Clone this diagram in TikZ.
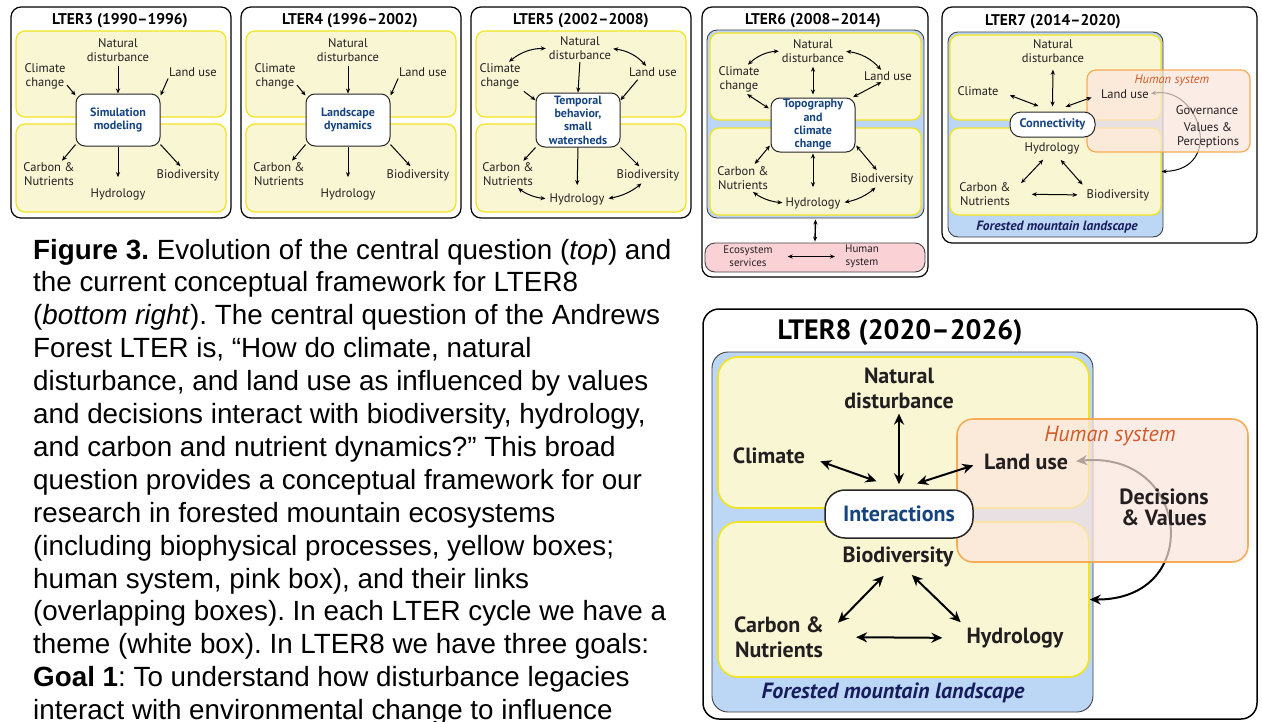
\documentclass[tikz,border=0pt]{standalone}
\usepackage{fontspec}
\setmainfont{Liberation Sans}
\newfontfamily\labelfont{PT Sans}
\usetikzlibrary{arrows.meta}
\frenchspacing

\definecolor{procfill}{RGB}{249,246,212}
\definecolor{procline}{RGB}{244,228,30}
\definecolor{landfill}{RGB}{188,214,246}
\definecolor{themeblue}{RGB}{22,68,128}
\definecolor{humanfill}{RGB}{252,229,220}
\definecolor{humanline}{RGB}{247,165,70}
\definecolor{humantext}{RGB}{210,90,40}
\definecolor{navytext}{RGB}{22,28,92}
\definecolor{servicefill}{RGB}{250,210,214}
\definecolor{labelgray}{RGB}{35,31,32}

\pgfdeclarelayer{backdrop}
\pgfdeclarelayer{linkcurve}
\pgfdeclarelayer{humanlayer}
\pgfsetlayers{backdrop,linkcurve,humanlayer,main}

\tikzset{
  panel/.style      = {draw, line width=1.2pt, rounded corners=10pt, fill=white, inner sep=0pt},
  procbox/.style    = {draw=procline, line width=1.2pt, fill=procfill, rounded corners=9pt, inner sep=0pt},
  landbox/.style    = {draw=black!75, line width=0.9pt, fill=landfill, rounded corners=10pt, inner sep=0pt},
  humanbox/.style   = {draw=humanline, line width=1.2pt, fill=humanfill, fill opacity=0.7,
                       draw opacity=0.9, rounded corners=9pt, inner sep=0pt},
  servicebox/.style = {draw=black!75, line width=0.9pt, fill=servicefill, rounded corners=10pt, inner sep=0pt},
  themebox/.style   = {draw=black!85, line width=1pt, fill=white, rounded corners=9pt, align=center,
                       text=themeblue, inner sep=0pt, font=\labelfont\bfseries\fontsize{12}{13.3}\selectfont},
  bigtheme/.style   = {themebox, line width=1.5pt, rounded corners=20pt,
                       font=\labelfont\bfseries\fontsize{22}{24}\selectfont},
  lab/.style        = {align=center, inner sep=0pt, text=labelgray, font=\labelfont\fontsize{12.5}{14}\selectfont},
  smalllab/.style   = {lab, font=\labelfont\fontsize{11}{13}\selectfont},
  biglab/.style     = {lab, font=\labelfont\bfseries\fontsize{22}{25}\selectfont},
  paneltitle/.style = {inner sep=0pt, font=\labelfont\bfseries\fontsize{15.5}{17}\selectfont},
  bigtitle/.style   = {inner sep=0pt, font=\labelfont\bfseries\fontsize{28}{30}\selectfont},
  humantitle/.style = {inner sep=0pt, text=humantext, font=\labelfont\itshape\fontsize{12.5}{14}\selectfont},
  forest/.style     = {inner sep=0pt, text=navytext, font=\labelfont\bfseries\itshape\fontsize{13.5}{15}\selectfont},
  caption/.style    = {anchor=north west, inner sep=0pt, align=left, font=\fontsize{27.8}{32.9}\selectfont},
  arr/.style        = {-{Stealth[length=5pt,width=4.2pt]}, line width=1pt},
  darr/.style       = {{Stealth[length=5pt,width=4.2pt]}-{Stealth[length=5pt,width=4.2pt]}, line width=1pt},
  bigarr/.style     = {{Stealth[length=11pt,width=10pt]}-{Stealth[length=11pt,width=10pt]}, line width=2pt}
}

\begin{document}
\begin{tikzpicture}[x=1pt, y=-1pt]
  \useasboundingbox (0,0) rectangle (1262,721);

  % LTER3
  \begin{pgfonlayer}{backdrop}
    \node[panel, minimum width=220pt, minimum height=211pt] (a-panel) at (121,112.5) {};
    \node[procbox, minimum width=210pt, minimum height=86pt] (a-up) at (121,74) {};
    \node[procbox, minimum width=210pt, minimum height=88pt] (a-low) at (121,168) {};
  \end{pgfonlayer}
  \node[paneltitle] (a-title) at (120,21) {LTER3 (1990–1996)};
  \node[themebox, minimum width=84pt, minimum height=52pt] (a-theme) at (118,120) {Simulation\\modeling};
  \node[lab] (a-nat) at (118,50) {Natural\\disturbance};
  \node[lab] (a-clim) at (45,76) {Climate\\change};
  \node[lab] (a-land) at (193,72) {Land use};
  \node[lab] (a-carb) at (49,174) {Carbon \&\\Nutrients};
  \node[lab] (a-hyd) at (118,194) {Hydrology};
  \node[lab] (a-bio) at (188,175) {Biodiversity};
  \draw[arr, shorten <=4pt] (a-nat.south) -- (a-theme.north);
  \draw[arr, shorten <=2pt] (a-clim.-20) -- (a-theme.150);
  \draw[arr, shorten <=2pt] (a-land.south west) -- (a-theme.30);
  \draw[arr, shorten >=2pt] (a-theme.210) -- (a-carb.45);
  \draw[arr, shorten >=11pt] (a-theme.south) -- (a-hyd.north);
  \draw[arr, shorten >=4pt] (a-theme.330) -- (a-bio.130);

  % LTER4
  \begin{scope}[xshift=230pt]
    \begin{pgfonlayer}{backdrop}
      \node[panel, minimum width=220pt, minimum height=211pt] (b-panel) at (121,112.5) {};
      \node[procbox, minimum width=210pt, minimum height=86pt] (b-up) at (121,74) {};
      \node[procbox, minimum width=210pt, minimum height=88pt] (b-low) at (121,168) {};
    \end{pgfonlayer}
    \node[paneltitle] (b-title) at (120,21) {LTER4 (1996–2002)};
    \node[themebox, minimum width=84pt, minimum height=52pt] (b-theme) at (118,120) {Landscape\\dynamics};
    \node[lab] (b-nat) at (118,50) {Natural\\disturbance};
    \node[lab] (b-clim) at (45,76) {Climate\\change};
    \node[lab] (b-land) at (193,72) {Land use};
    \node[lab] (b-carb) at (49,174) {Carbon \&\\Nutrients};
    \node[lab] (b-hyd) at (118,194) {Hydrology};
    \node[lab] (b-bio) at (188,175) {Biodiversity};
    \draw[arr, shorten <=4pt] (b-nat.south) -- (b-theme.north);
    \draw[arr, shorten <=2pt] (b-clim.-20) -- (b-theme.150);
    \draw[arr, shorten <=2pt] (b-land.south west) -- (b-theme.30);
    \draw[arr, shorten >=2pt] (b-theme.210) -- (b-carb.45);
    \draw[arr, shorten >=11pt] (b-theme.south) -- (b-hyd.north);
    \draw[arr, shorten >=4pt] (b-theme.330) -- (b-bio.130);
  \end{scope}

  % LTER5
  \begin{pgfonlayer}{backdrop}
    \node[panel, minimum width=220pt, minimum height=211pt] (c-panel) at (581,112.5) {};
    \node[procbox, minimum width=210pt, minimum height=86pt] (c-up) at (581,74) {};
    \node[procbox, minimum width=210pt, minimum height=88pt] (c-low) at (581,168) {};
  \end{pgfonlayer}
  \node[paneltitle] (c-title) at (581,21) {LTER5 (2002–2008)};
  \node[themebox, minimum width=84pt, minimum height=54pt] (c-theme) at (578,120) {Temporal\\behavior,\\small\\watersheds};
  \node[lab] (c-nat) at (580,48.5) {Natural\\disturbance};
  \node[lab] (c-clim) at (500,76) {Climate\\change};
  \node[lab] (c-land) at (653,72) {Land use};
  \node[lab] (c-carb) at (508,174) {Carbon \&\\Nutrients};
  \node[lab] (c-hyd) at (577,199) {Hydrology};
  \node[lab] (c-bio) at (648,175) {Biodiversity};
  \draw[darr, shorten <=2pt, shorten >=3pt] (c-clim.60) to[bend left=20] (c-nat.west);
  \draw[darr, shorten <=2pt, shorten >=2pt] (c-nat.east) to[bend left=20] (c-land.140);
  \draw[arr, shorten <=2pt] (c-nat.south) -- (c-theme.north);
  \draw[arr, shorten <=4pt] (c-clim.south east) -- (c-theme.155);
  \draw[arr, shorten <=4pt] (c-land.200) -- (c-theme.25);
  \draw[arr, shorten >=2pt] (c-theme.south west) -- (c-carb.40);
  \draw[arr, shorten >=8pt] (c-theme.south) -- (c-hyd.north);
  \draw[arr, shorten >=4pt] (c-theme.south east) -- (c-bio.135);
  \draw[darr, shorten <=4pt, shorten >=4pt] (c-carb.-60) to[bend right=15] (c-hyd.west);
  \draw[darr, shorten <=4pt, shorten >=4pt] (c-hyd.east) to[bend right=15] (c-bio.-120);

  % LTER6
  \begin{pgfonlayer}{backdrop}
    \node[panel, minimum width=226pt, minimum height=270pt] (d-panel) at (815,142) {};
    \node[landbox, minimum width=217pt, minimum height=188pt] (d-blue) at (815.5,124) {};
    \node[procbox, minimum width=211pt, minimum height=87pt] (d-up) at (815.5,76.5) {};
    \node[procbox, minimum width=211pt, minimum height=87pt] (d-low) at (815.5,171.5) {};
    \node[servicebox, minimum width=220pt, minimum height=29pt] (d-pink) at (815,257.5) {};
  \end{pgfonlayer}
  \node[paneltitle] (d-title) at (813,21) {LTER6 (2008–2014)};
  \node[themebox, minimum width=84pt, minimum height=54pt] (d-theme) at (813,125) {Topography\\and\\climate\\change};
  \node[lab] (d-nat) at (813,51) {Natural\\disturbance};
  \node[lab] (d-clim) at (739,79) {Climate\\change};
  \node[lab] (d-land) at (888,76) {Land use};
  \node[lab] (d-carb) at (743,178) {Carbon \&\\Nutrients};
  \node[lab] (d-hyd) at (813,203) {Hydrology};
  \node[lab] (d-bio) at (882,179) {Biodiversity};
  \node[smalllab] (d-eco) at (748,256.5) {Ecosystem\\services};
  \node[smalllab] (d-hum) at (862,256.5) {Human\\system};
  \draw[darr, shorten <=2pt, shorten >=3pt] (d-clim.60) to[bend left=20] (d-nat.west);
  \draw[darr, shorten <=2pt, shorten >=2pt] (d-nat.east) to[bend left=20] (d-land.140);
  \draw[darr, shorten <=4pt, shorten >=3pt] (d-nat.south) -- (d-theme.north);
  \draw[darr, shorten <=4pt, shorten >=2pt] (d-clim.-70) -- (d-theme.160);
  \draw[darr, shorten <=3pt, shorten >=1pt] (d-land.-130) -- (d-theme.35);
  \draw[darr, shorten <=1pt, shorten >=3pt] (d-theme.205) -- (d-carb.50);
  \draw[darr, shorten <=1pt, shorten >=10pt] (d-theme.south) -- (d-hyd.north);
  \draw[darr, shorten <=1pt, shorten >=4pt] (d-theme.-25) -- (d-bio.115);
  \draw[darr, shorten <=4pt, shorten >=3pt] (d-carb.-60) to[bend right=15] (d-hyd.west);
  \draw[darr, shorten <=4pt, shorten >=4pt] (d-hyd.east) to[bend right=15] (d-bio.-120);
  \draw[darr, line width=1.4pt, shorten <=1pt, shorten >=1pt] (d-blue.south) -- (d-pink.north);
  \draw[darr, shorten <=15pt, shorten >=10pt] (d-eco.east) -- (d-hum.west);

  % LTER7
  \begin{pgfonlayer}{backdrop}
    \node[panel, minimum width=315pt, minimum height=236pt] (e-panel) at (1099.5,125) {};
    \node[landbox, minimum width=215pt, minimum height=205pt] (e-blue) at (1055.5,134.5) {};
    \node[procbox, minimum width=211pt, minimum height=85pt] (e-up) at (1055.5,77.5) {};
    \node[procbox, minimum width=211pt, minimum height=87pt] (e-low) at (1055.5,171.5) {};
  \end{pgfonlayer}
  \begin{pgfonlayer}{humanlayer}
    \node[humanbox, minimum width=163pt, minimum height=82pt] (e-hbox) at (1168.5,111) {};
  \end{pgfonlayer}
  \node[paneltitle] (e-title) at (1053,22) {LTER7 (2014–2020)};
  \node[themebox, rounded corners=11pt, minimum width=85pt, minimum height=25pt,
        font=\labelfont\bfseries\fontsize{12.5}{14}\selectfont] (e-theme) at (1052.5,124.5) {Connectivity};
  \node[lab] (e-nat) at (1053,51) {Natural\\disturbance};
  \node[lab] (e-clim) at (978,91) {Climate};
  \node[lab] (e-land) at (1125,94) {Land use};
  \node[lab] (e-hyd) at (1052,148) {Hydrology};
  \node[lab] (e-carb) at (985,194) {Carbon \&\\Nutrients};
  \node[lab] (e-bio) at (1118,195) {Biodiversity};
  \node[humantitle] (e-human) at (1172,80) {Human system};
  \node[lab] (e-gov) at (1207,110) {Governance};
  \node[lab] (e-val) at (1208,135) {Values \&\\Perceptions};
  \node[forest] (e-forest) at (1057,227) {Forested mountain landscape};
  \draw[darr, shorten <=7pt, shorten >=5pt] (e-nat.south) -- (e-theme.north);
  \draw[darr, shorten <=12pt, shorten >=15pt] (e-clim.east) -- (e-theme.north);
  \draw[darr, shorten <=10pt, shorten >=14pt] (e-land.west) -- (e-theme.north);
  \draw[darr, shorten <=8pt, shorten >=15pt] (e-hyd.-120) -- (e-carb.east);
  \draw[darr, shorten <=8pt, shorten >=6pt] (e-hyd.-60) -- (e-bio.north west);
  \draw[darr, shorten <=21pt, shorten >=9pt] (e-carb.east) -- (e-bio.west);
  \begin{pgfonlayer}{linkcurve}
    \draw[darr, shorten <=2pt] (e-land.east) .. controls (1200,85) and (1225,170) .. (e-low.east);
  \end{pgfonlayer}

  % LTER8
  \begin{pgfonlayer}{backdrop}
    \node[panel, line width=1.5pt, rounded corners=16pt, minimum width=554pt, minimum height=410pt] (h-panel) at (980,514) {};
    \node[landbox, rounded corners=16pt, minimum width=381pt, minimum height=360pt] (h-blue) at (902.5,532) {};
    \node[procbox, line width=1.6pt, rounded corners=20pt, minimum width=371pt, minimum height=151pt] (h-up) at (903.5,432.5) {};
    \node[procbox, line width=1.6pt, rounded corners=20pt, minimum width=371pt, minimum height=155pt] (h-low) at (903.5,599.5) {};
  \end{pgfonlayer}
  \begin{pgfonlayer}{humanlayer}
    \node[humanbox, line width=1.6pt, rounded corners=16pt, minimum width=291pt, minimum height=143pt] (h-hbox) at (1102.5,490.5) {};
  \end{pgfonlayer}
  \node[bigtitle] (h-title) at (900,333) {LTER8 (2020–2026)};
  \node[bigtheme, minimum width=148pt, minimum height=48pt] (h-theme) at (899,514) {Interactions};
  \node[biglab] (h-nat) at (899,388) {Natural\\disturbance};
  \node[biglab] (h-clim) at (769,456) {Climate};
  \node[biglab] (h-land) at (1026,462) {Land use};
  \node[humantitle, font=\labelfont\itshape\fontsize{22}{24}\selectfont] (h-human) at (1110,436) {Human system};
  \node[biglab, font=\labelfont\bfseries\fontsize{22}{21}\selectfont] (h-dec) at (1164,507) {Decisions\\\& Values};
  \node[biglab] (h-bio) at (898,557) {Biodiversity};
  \node[biglab] (h-carb) at (779,637) {Carbon \&\\Nutrients};
  \node[biglab] (h-hyd) at (1015,638) {Hydrology};
  \node[forest, font=\labelfont\bfseries\itshape\fontsize{22}{24}\selectfont] (h-forest) at (893,693) {Forested mountain landscape};
  \draw[bigarr, shorten <=5pt, shorten >=5pt] (h-nat.south) -- (h-theme.north);
  \draw[bigarr, shorten <=16pt, shorten >=24pt] (h-clim.east) -- (h-theme.north);
  \draw[bigarr, shorten <=11pt, shorten >=19pt] (h-land.west) -- (h-theme.north);
  \draw[bigarr, shorten <=12pt, shorten >=20pt] (h-bio.-120) -- (h-carb.east);
  \draw[bigarr, shorten <=11pt, shorten >=8pt] (h-bio.-60) -- (h-hyd.north west);
  \draw[bigarr, shorten <=32pt, shorten >=24pt] (h-carb.east) -- (h-hyd.west);
  \begin{pgfonlayer}{linkcurve}
    \draw[bigarr, shorten <=8pt] (h-land.east) .. controls (1190,450) and (1205,600) .. (h-low.east);
  \end{pgfonlayer}

  % caption
  \node[caption] (cap) at (33,238.7) {\textbf{Figure 3.} Evolution of the central question (\textit{top}) and\\
    the current conceptual framework for LTER8\\
    (\textit{bottom right}). The central question of the Andrews\\
    Forest LTER is, “How do climate, natural\\
    disturbance, and land use as influenced by values\\
    and decisions interact with biodiversity, hydrology,\\
    and carbon and nutrient dynamics?” This broad\\
    question provides a conceptual framework for our\\
    research in forested mountain ecosystems\\
    (including biophysical processes, yellow boxes;\\
    human system, pink box), and their links\\
    (overlapping boxes). In each LTER cycle we have a\\
    theme (white box). In LTER8 we have three goals:\\
    \textbf{Goal 1}: To understand how disturbance legacies\\
    interact with environmental change to influence};
\end{tikzpicture}
\end{document}
